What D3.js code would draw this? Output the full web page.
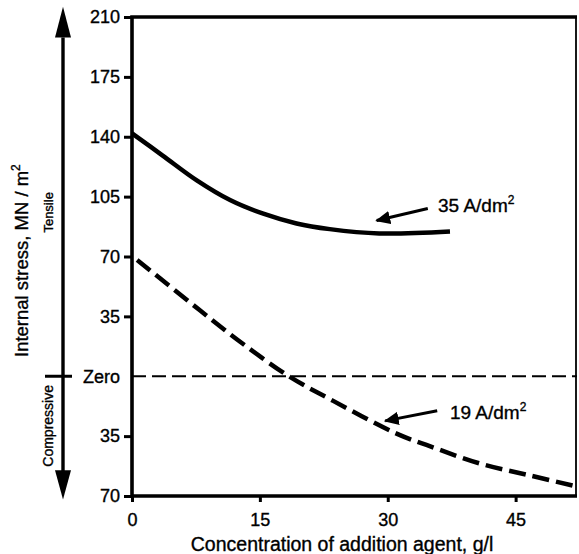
<!DOCTYPE html>
<html>
<head>
<meta charset="utf-8">
<script src="https://cdn.jsdelivr.net/npm/d3@7"></script>
<style>
  body { margin: 0; background: #fff; }
  text { font-family: "Liberation Sans", Arial, Helvetica, sans-serif; fill: #000; stroke: #000; stroke-width: 0.35px; }
</style>
</head>
<body>
<div id="chart"></div>
<script>
// chart values
var xTicks = [0, 15, 30, 45];
var yTicks = [210, 175, 140, 105, 70, 35, 0, -35, -70];

var conc35 = [0, 3.6, 7.6, 11.5, 15.4, 19.3, 23.2, 29, 37.3];
var stress35 = [142, 129, 114.5, 103, 95, 89.3, 86, 83.5, 84.6];

var conc19 = [0.6, 8, 13, 18.4, 23.6, 31.1, 35, 40.8, 46.7, 52.2];
var stress19 = [68, 38.4, 19, 0, -14.4, -33.7, -41, -51, -58, -64.5];

var labels = ["35 A/dm", "19 A/dm"];
var labelAt = [[35.9, 95.8], [37.3, -24.9]];
var arrowFrom = [[34.7, 98.1], [35.8, -20.2]];
var arrowTo = [[28.7, 91], [29.7, -26.1]];

var width = 579, height = 554;
var margin = {top: 17, right: 2, bottom: 58, left: 132};

var svg = d3.select("#chart").append("svg")
	.attr("width", width)
	.attr("height", height);

var x = d3.scaleLinear().domain([0, 52.2]).range([margin.left, width - margin.right]);
var y = d3.scaleLinear().domain([-70, 210]).range([height - margin.bottom, margin.top]);

var defs = svg.append("defs");
defs.append("marker")
	.attr("id", "head")
	.attr("viewBox", "0 0 10 10")
	.attr("refX", 9).attr("refY", 5)
	.attr("markerWidth", 5).attr("markerHeight", 5)
	.attr("markerUnits", "strokeWidth")
	.attr("orient", "auto")
	.append("path").attr("d", "M0,0.5 L10,5 L0,9.5 Z").attr("fill", "#000");

// zero line
svg.append("line")
	.attr("x1", x(0)).attr("x2", x(52.2))
	.attr("y1", y(0)).attr("y2", y(0))
	.attr("stroke", "#000").attr("stroke-width", 1.8)
	.attr("stroke-dasharray", "14,6");

// axes
var yAxis = d3.axisLeft(y)
	.tickValues(yTicks)
	.tickSize(8).tickSizeOuter(0).tickPadding(4)
	.tickFormat(function(d) { return d == 0 ? "Zero" : Math.abs(d); });
var gy = svg.append("g").attr("transform", "translate(" + margin.left + ",0)").call(yAxis);
gy.selectAll("text").style("font-size", "18px").attr("fill", "#000");

var xAxis = d3.axisBottom(x)
	.tickValues(xTicks)
	.tickSize(6).tickSizeOuter(0).tickPadding(11);
var gx = svg.append("g").attr("transform", "translate(0," + y(-70) + ")").call(xAxis);
gx.selectAll("text").style("font-size", "18px").attr("fill", "#000");

svg.selectAll(".domain").remove();
svg.selectAll(".tick line").attr("stroke", "#000").attr("stroke-width", 3);
gy.selectAll(".tick").filter(function(d) { return d == 0; }).select("line").remove();

// frame
svg.append("path")
	.attr("d", "M" + x(52.2) + "," + y(210) + "H" + x(0) + "V" + y(-70) + "H" + x(52.2))
	.attr("fill", "none").attr("stroke", "#000").attr("stroke-width", 3.6);
svg.append("line")
	.attr("x1", x(52.2) - 1).attr("x2", x(52.2) - 1)
	.attr("y1", y(210)).attr("y2", y(-70))
	.attr("stroke", "#000").attr("stroke-width", 1.8);

// curves
var line = d3.line()
	.x(function(d) { return x(d[0]); })
	.y(function(d) { return y(d[1]); })
	.curve(d3.curveCatmullRom.alpha(0.5));

svg.append("path")
	.datum(d3.zip(conc35, stress35))
	.attr("d", line)
	.attr("fill", "none").attr("stroke", "#000").attr("stroke-width", 4.5);

svg.append("path")
	.datum(d3.zip(conc19, stress19))
	.attr("d", line)
	.attr("fill", "none").attr("stroke", "#000").attr("stroke-width", 4.5)
	.attr("stroke-dasharray", "17,7");

// annotations
labels.forEach(function(l, i) {
	var t = svg.append("text")
		.attr("x", x(labelAt[i][0])).attr("y", y(labelAt[i][1]))
		.style("font-size", "19px")
		.text(l);
	t.append("tspan").attr("dy", -8).style("font-size", "12px").text("2");
	svg.append("line")
		.attr("x1", x(arrowFrom[i][0])).attr("y1", y(arrowFrom[i][1]))
		.attr("x2", x(arrowTo[i][0])).attr("y2", y(arrowTo[i][1]))
		.attr("stroke", "#000").attr("stroke-width", 3)
		.attr("marker-end", "url(#head)");
});

// tensile / compressive arrow
var ax = margin.left - 69;
svg.append("line")
	.attr("x1", ax).attr("x2", ax)
	.attr("y1", y(198)).attr("y2", y(-58))
	.attr("stroke", "#000").attr("stroke-width", 3.4);
svg.append("path")
	.attr("d", "M" + ax + "," + y(216) + "L" + (ax - 8) + "," + y(198) + "L" + (ax + 8) + "," + y(198) + "Z")
	.attr("fill", "#000");
svg.append("path")
	.attr("d", "M" + ax + "," + y(-72) + "L" + (ax - 8) + "," + y(-55) + "L" + (ax + 8) + "," + y(-55) + "Z")
	.attr("fill", "#000");
svg.append("line")
	.attr("x1", ax - 18).attr("x2", ax + 9)
	.attr("y1", y(0)).attr("y2", y(0))
	.attr("stroke", "#000").attr("stroke-width", 3);

svg.append("text")
	.attr("transform", "translate(" + (ax - 10) + "," + y(95.8) + ") rotate(-90)")
	.attr("text-anchor", "middle")
	.style("font-size", "13px")
	.text("Tensile");
svg.append("text")
	.attr("transform", "translate(" + (ax - 10) + "," + y(-29) + ") rotate(-90)")
	.attr("text-anchor", "middle")
	.style("font-size", "14px")
	.text("Compressive");

// axis titles
var yt = svg.append("text")
	.attr("transform", "translate(28,357) rotate(-90)")
	.style("font-size", "18.5px")
	.text("Internal stress, MN / m");
yt.append("tspan").attr("dy", -8).style("font-size", "12px").text("2");

svg.append("text")
	.attr("x", 342)
	.attr("y", height - 3)
	.attr("text-anchor", "middle")
	.style("font-size", "19.5px")
	.text("Concentration of addition agent, g/l");
</script>
</body>
</html>
